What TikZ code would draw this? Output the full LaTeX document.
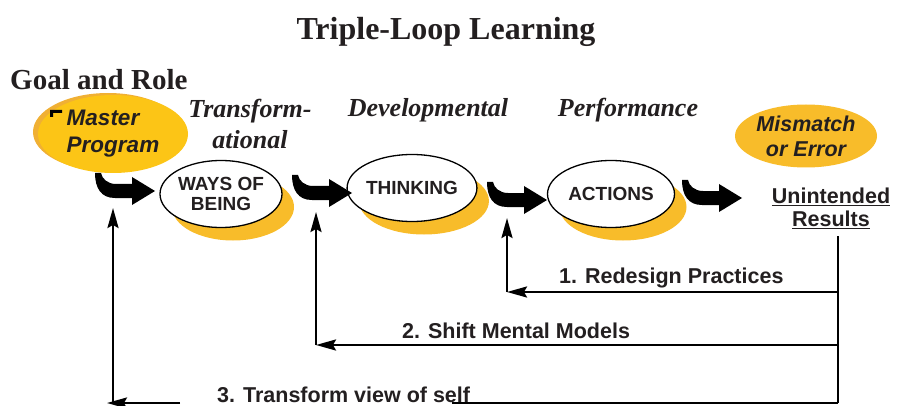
\documentclass[tikz,border=0pt]{standalone}
\usepackage{fontspec}
\setmainfont{Liberation Serif}
\setsansfont{Liberation Sans}
\usepackage{xcolor}
\usetikzlibrary{arrows.meta,positioning,shapes.geometric,shadows}

\definecolor{gold}{RGB}{248,188,42}
\definecolor{goldlight}{RGB}{252,197,22}
\definecolor{golddark}{RGB}{240,176,52}
\definecolor{ink}{RGB}{35,31,32}

\begin{document}
\begin{tikzpicture}
  [
    x=1pt,y=-1pt,
    stage/.style={ellipse,draw=black,line width=1.3pt,fill=white,inner sep=0pt,minimum width=122pt,minimum height=67pt,align=center,text=ink,font=\sffamily\bfseries\fontsize{19}{20}\selectfont,drop shadow={shadow xshift=12pt,shadow yshift=-13pt,fill=gold,opacity=1}},
    blob/.style={ellipse,inner sep=0pt,align=center,text=ink,font=\sffamily\bfseries\itshape\fontsize{21.5}{25}\selectfont},
    level/.style={font=\bfseries\itshape\fontsize{26}{31}\selectfont,text=ink},
    loop label/.style={font=\sffamily\bfseries\fontsize{21.5}{21.5}\selectfont,text=ink,anchor=base west,inner sep=0pt},
    feedback/.style={line width=2.4pt},
    back/.style={feedback,-{Stealth[length=20pt,width=11pt,inset=3pt]}},
    hook arrow/.pic={\fill (0,0) .. controls (0,15) and (6,25) .. (20,25) -- (37,25) -- (37,32) -- (60,18) -- (37,4) -- (37,11) -- (21,11) .. controls (13,11) and (7,6) .. (6,0) -- cycle;}
  ]
  \useasboundingbox (0,0) rectangle (904,406);

  % headings
  \node[font=\bfseries\fontsize{32}{32}\selectfont,text=ink,anchor=base] at (446,40) (title) {Triple-Loop Learning};
  \node[font=\bfseries\fontsize{29}{29}\selectfont,text=ink,anchor=base west,inner sep=0pt] at (10,90) (goal) {Goal and Role};
  \node[level,align=center] at (250,123.5) (transf) {Transform-\\ational};
  \node[level,anchor=base] at (428,117) (devel) {Developmental};
  \node[level,anchor=base] at (628,117) (perf) {Performance};

  % the loop
  \node[blob,fill=goldlight,minimum width=150pt,minimum height=78pt,align=left,font=\sffamily\bfseries\itshape\fontsize{22.5}{27}\selectfont,drop shadow={shadow xshift=-5pt,shadow yshift=2pt,fill=golddark,opacity=1}] at (113,134) (master) {Master\\Program};
  \fill (50,110) rectangle (62,113) (50,110) rectangle (53,117);
  \node[stage] at (221,194) (ways) {WAYS OF\\BEING};
  \node[stage] at (412,188) (thinking) {THINKING};
  \node[stage,minimum width=127pt] at (611,194) (actions) {ACTIONS};
  \node[blob,fill=gold,minimum width=142pt,minimum height=63pt] at (806,136) (mismatch) {Mismatch\\or Error};
  \node[align=center,text=ink,font=\sffamily\bfseries\fontsize{21.5}{23}\selectfont] at (831,208) (results) {\underline{Unintended}\\\underline{Results}};

  \pic at (95,173) {hook arrow};
  \pic at (292,175) {hook arrow};
  \pic at (487,182) {hook arrow};
  \pic at (682,180) {hook arrow};

  % feedback
  \coordinate (fb top) at (838,236);
  \coordinate (fb1) at (838,292);
  \coordinate (fb2) at (838,345);
  \coordinate (fb3) at (838,403);
  \coordinate (ret1) at (507,292);
  \coordinate (ret2) at (316,345);
  \coordinate (ret3) at (113,403);
  \coordinate (up1) at (507,218);
  \coordinate (up2) at (316,212);
  \coordinate (up3) at (113,208);
  \coordinate (gap r) at (452,403);
  \coordinate (gap l) at (180,403);

  \draw[feedback] (fb top) -- (fb3);
  \draw[back] (fb1) -- (ret1);
  \draw[back] (ret1) -- (up1);
  \draw[back] (fb2) -- (ret2);
  \draw[back] (ret2) -- (up2);
  \draw[feedback] (fb3) -- (gap r);
  \draw[back] (gap l) -- ([xshift=-6pt]ret3);
  \draw[back] (ret3) -- (up3);

  \node[loop label] at (559,283) (redesign) {1. Redesign Practices};
  \node[loop label] at (402,338) (shift) {2. Shift Mental Models};
  \node[loop label] at (217,402) (transform) {3. Transform view of self};
\end{tikzpicture}
\end{document}
